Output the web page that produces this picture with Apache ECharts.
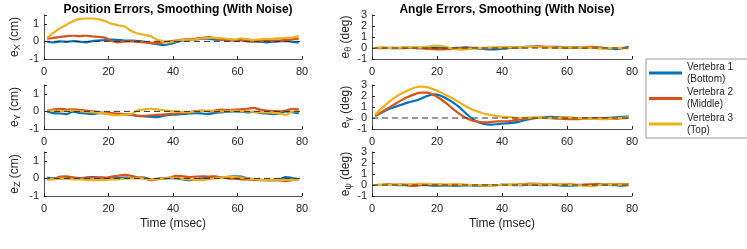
<!DOCTYPE html>
<html><head><meta charset="utf-8">
<script src="https://cdn.jsdelivr.net/npm/echarts@6/dist/echarts.min.js"></script>
<style>html,body{margin:0;padding:0;background:#fff}#c{width:747px;height:249px}</style>
</head><body><div id="c"></div>
<script>
// time samples (msec)
var time = [1,3,5,7,9,11,13,15,17,19,21,23,25,27,29,31,33,35,37,39,41,43,45,47,49,51,53,55,57,59,61,63,65,67,69,71,73,75,77,79];
var seriesNames = ['Vertebra 1 (Bottom)','Vertebra 2 (Middle)','Vertebra 3 (Top)'];
var xTicks = [0,20,40,60,80];
var posTicks = [-1,0,1];
var angTicks = [-1,0,1,2,3];

// e_X (cm)
var ex_v1 = [-0.02,-0.05,0,-0.03,0.02,-0.02,-0.05,0.02,0.05,0.08,0.1,0.08,0.05,0.05,0.02,-0.02,-0.1,-0.15,-0.2,-0.15,-0.05,0.05,0.1,0.12,0.15,0.15,0.1,0.1,0.08,0.05,0.08,0.02,0,-0.02,-0.05,-0.02,0,0.02,-0.03,-0.05];
var ex_v2 = [0.15,0.2,0.25,0.3,0.32,0.3,0.32,0.28,0.25,0.2,0.02,-0.05,0,0,-0.03,-0.05,-0.08,-0.1,-0.05,0,0.05,0.1,0.12,0.15,0.2,0.25,0.18,0.1,0.08,0.05,0.05,0.02,0,0.03,0.05,0.05,0.05,0.08,0.12,0.15];
var ex_v3 = [0.2,0.5,0.75,0.95,1.15,1.28,1.3,1.3,1.25,1.15,1.0,0.92,0.85,0.6,0.45,0.38,0.3,0.1,0,-0.05,0.02,0.08,0.1,0.12,0.18,0.2,0.2,0.18,0.15,0.1,0.18,0.12,0.08,0.12,0.15,0.15,0.18,0.2,0.22,0.3];
// e_Y (cm)
var ey_v1 = [0,-0.1,-0.12,-0.15,-0.02,-0.08,-0.12,-0.15,-0.1,-0.12,-0.18,-0.2,-0.15,-0.18,-0.25,-0.28,-0.3,-0.32,-0.25,-0.2,-0.18,-0.15,-0.12,-0.1,-0.12,-0.15,-0.08,-0.05,-0.02,0,-0.02,-0.05,-0.03,-0.08,-0.12,-0.15,-0.12,0,-0.05,-0.1];
var ey_v2 = [0.05,0.12,0.15,0.1,0.12,0.08,0.05,0,-0.05,-0.08,-0.1,-0.12,-0.15,-0.2,-0.25,-0.25,-0.22,-0.2,-0.18,-0.15,-0.12,-0.08,-0.05,0.02,0.05,0,0.05,0.1,0.08,0.1,0.12,0.15,0.2,0.1,0.05,0.02,0,0.05,0.15,0.12];
var ey_v3 = [0.05,0.05,0,0.02,0.05,0.02,-0.02,-0.05,-0.08,-0.12,-0.2,-0.22,-0.18,-0.15,0.05,0.12,0.15,0.12,0.08,0.02,0,-0.03,-0.05,0,0.03,0.05,0.02,0,0.02,0.05,0.02,0,-0.02,-0.05,-0.05,-0.08,-0.12,-0.2,0,0.02];
// e_Z (cm)
var ez_v1 = [0.05,0,0,0.02,0.05,0.02,0.05,0.08,0.05,0.02,0,0.02,0.05,0.03,0.05,0.05,-0.05,-0.03,0,0.02,0,-0.05,-0.1,-0.05,0,0.02,0.05,0.05,0.08,0.12,0.1,0.02,-0.05,-0.1,-0.1,-0.08,-0.05,0.08,0.02,-0.05];
var ez_v2 = [-0.05,-0.02,0.1,0.12,0.05,0,0.02,0.05,0.05,0.05,0.1,0.15,0.2,0.15,0.05,0.02,-0.1,-0.05,0,0.05,0.15,0.12,0.08,0.1,0.12,0.1,0.12,0.05,0,-0.02,-0.05,-0.05,-0.1,-0.08,-0.1,-0.12,-0.12,-0.15,-0.1,-0.05];
var ez_v3 = [-0.05,-0.05,0,-0.02,-0.05,-0.05,-0.08,-0.1,-0.1,-0.08,-0.05,-0.05,-0.02,0,0,-0.02,-0.05,-0.05,0,0.05,0.02,-0.02,-0.05,-0.08,-0.1,-0.05,0,0.05,0.1,0.08,0.05,0,-0.05,-0.08,-0.1,-0.1,-0.1,-0.08,-0.08,-0.05];
// e_theta (deg)
var et_v1 = [0,0.02,0,-0.02,0,0.02,0,-0.02,0,0.02,0,-0.02,0,0.02,0.05,0,-0.05,-0.1,-0.12,-0.1,-0.05,0,0.05,0.1,0.12,0.12,0.08,0.1,0.1,0.08,0.05,0.05,0.02,0.05,0.02,0,-0.05,-0.1,-0.02,0.1];
var et_v2 = [0,-0.02,0,0.02,-0.02,0,0,-0.02,-0.05,-0.1,-0.12,-0.1,-0.05,-0.02,0,0.02,0,-0.02,0,0.02,0.05,0.05,0.05,0.08,0.1,0.15,0.12,0.08,0.05,0.05,0.02,0.02,0.05,0.1,0.08,0.02,0,0,-0.02,0];
var et_v3 = [0.02,0.05,0.02,0,0.05,0.08,0.05,0.05,0.12,0.22,0.2,0.08,-0.05,-0.15,-0.12,-0.05,0,0.02,0.05,0.05,0.08,0.05,0.05,0.08,0.1,0.08,0.05,0.05,0.02,0.05,0.05,0.02,0.05,0.02,-0.02,-0.05,-0.02,0,0.02,0];
// e_gamma (deg)
var eg_v1 = [0.2,0.5,0.8,1.0,1.2,1.4,1.55,1.75,2.0,2.15,2.05,1.75,1.4,0.95,0.4,-0.1,-0.4,-0.55,-0.6,-0.55,-0.5,-0.45,-0.35,-0.2,-0.05,0.02,0.05,0.1,0.08,0.05,0.02,0,0,-0.02,0,0,0.02,0.05,0.1,0.12];
var eg_v2 = [0.2,0.55,0.9,1.25,1.6,1.9,2.15,2.3,2.3,2.1,1.75,1.3,0.8,0.35,0,-0.25,-0.35,-0.4,-0.35,-0.3,-0.3,-0.25,-0.15,-0.08,-0.02,0,0,-0.02,-0.05,-0.08,-0.1,-0.1,-0.08,-0.05,0,0,-0.03,-0.05,-0.02,0];
var eg_v3 = [0.3,0.9,1.4,1.85,2.2,2.5,2.75,2.85,2.8,2.6,2.35,2.05,1.75,1.4,1.05,0.75,0.55,0.35,0.25,0.15,0.1,0.05,0,0.02,0.05,0.05,0.02,0,0.02,0.05,0.05,0,-0.05,-0.05,-0.08,-0.1,-0.08,0,0.02,0.05];
// e_psi (deg)
var ep_v1 = [0,0,0.02,0,-0.02,0,0.02,0,-0.02,-0.05,-0.05,-0.03,-0.05,-0.05,-0.03,-0.05,-0.08,-0.05,-0.02,0,0.02,0,-0.02,0,0.02,0,-0.02,0,-0.02,-0.05,-0.05,-0.03,0,0.02,0,0.02,0,-0.02,-0.05,-0.02];
var ep_v2 = [0,0.02,0.05,0.02,0.05,-0.05,-0.08,-0.02,0.05,0.02,0,-0.02,0,0.02,0,0,-0.02,-0.05,-0.02,0,0.02,0.03,0.05,0.08,0.12,0.1,0.05,0.05,0.03,0.05,0.05,0.02,0.03,0.05,0.08,0.08,0.05,0.05,0.1,0.05];
var ep_v3 = [0,0.02,0,0.03,0.05,0.05,0.08,0.1,0.1,0.08,0.08,0.05,0.08,0.05,0.02,0,-0.03,-0.05,-0.03,0,0,0.02,0.02,0.03,0.05,0.05,0.03,0.03,0.05,0.05,0.02,0,-0.05,-0.1,-0.05,0.05,0.03,0.02,0.05,0.02];

var colors = ['#0072BD','#D95319','#EDB120'];
var panels = [
  {vals:[ex_v1,ex_v2,ex_v3], sub:'X', unit:'(cm)', col:0, row:0},
  {vals:[ey_v1,ey_v2,ey_v3], sub:'Y', unit:'(cm)', col:0, row:1},
  {vals:[ez_v1,ez_v2,ez_v3], sub:'Z', unit:'(cm)', col:0, row:2},
  {vals:[et_v1,et_v2,et_v3], sub:'θ', unit:'(deg)', col:1, row:0},
  {vals:[eg_v1,eg_v2,eg_v3], sub:'γ', unit:'(deg)', col:1, row:1},
  {vals:[ep_v1,ep_v2,ep_v3], sub:'ψ', unit:'(deg)', col:1, row:2}
];
var gridTops = [15, 85, 152];
var gridLefts = [44, 372];
var gridWidths = [258, 260];
var FONT = 'Liberation Sans, Arial, Helvetica, sans-serif';
var TXT = '#262626';

var grids=[], xAxes=[], yAxes=[], series=[];
panels.forEach(function(p, i){
  grids.push({left:gridLefts[p.col], top:gridTops[p.row], width:gridWidths[p.col], height:44});
  var isLast = p.row === 2;
  xAxes.push({
    type:'value', gridIndex:i, min:0, max:80, interval:20,
    axisLine:{show:true, onZero:false, lineStyle:{color:TXT, width:0.8}},
    axisTick:{show:true, inside:true, length:3, lineStyle:{color:TXT}},
    axisLabel:{color:TXT, fontSize:11, fontFamily:FONT, margin:7},
    splitLine:{show:false},
    name: isLast ? 'Time (msec)' : '', nameLocation:'middle', nameGap:22,
    nameTextStyle:{color:TXT, fontSize:12, fontFamily:FONT}
  });
  var isPos = p.col === 0;
  yAxes.push({
    type:'value', gridIndex:i, min:-1, max: isPos ? 1.5 : 3, interval:1,
    axisLine:{show:true, lineStyle:{color:TXT, width:0.8}},
    axisTick:{show:true, inside:true, length:3, lineStyle:{color:TXT}},
    axisLabel:{color:TXT, fontSize:11, fontFamily:FONT, margin:5,
      formatter:function(v){ return (Math.abs(v - Math.round(v))<1e-9) ? String(v) : ''; }},
    splitLine:{show:false},
    name:'e{s|' + p.sub + '} ' + p.unit, nameLocation:'middle', nameRotate:90, nameGap: isPos ? 22 : 18,
    nameTextStyle:{color:TXT, fontSize:12, fontFamily:FONT,
      rich:{s:{fontSize:9, fontFamily:FONT, color:TXT, verticalAlign:'bottom', padding:[6,0,0,0]}}}
  });
  p.vals.forEach(function(arr, k){
    series.push({
      type:'line', name:seriesNames[k], xAxisIndex:i, yAxisIndex:i,
      data: time.map(function(t, j){ return [t, arr[j]]; }),
      showSymbol:false, smooth:0.3, color:colors[k],
      lineStyle:{width:2.2, color:colors[k]}, z:2+k, animation:false
    });
  });
  series.push({
    type:'line', xAxisIndex:i, yAxisIndex:i, data:[[0,0],[80,0]], showSymbol:false,
    lineStyle:{type:[6,4], width:1, color:'#333'}, z:10, silent:true, animation:false
  });
});

var chart = echarts.init(document.getElementById('c'), null, {renderer:'canvas'});
chart.setOption({
  animation:false,
  textStyle:{fontFamily:FONT},
  title:[
    {text:'Position Errors, Smoothing (With Noise)', left:173, top:-1, textAlign:'center',
      textStyle:{fontSize:12, fontWeight:'bold', color:'#000', fontFamily:FONT}},
    {text:'Angle Errors, Smoothing (With Noise)', left:502, top:-1, textAlign:'center',
      textStyle:{fontSize:12, fontWeight:'bold', color:'#000', fontFamily:FONT}}
  ],
  legend:{
    data:seriesNames, orient:'vertical', left:646, top:59, width:100,
    borderColor:'#999', borderWidth:1, backgroundColor:'#fff', padding:[2,16,2,3],
    itemWidth:33, itemHeight:3, itemGap:1.5, icon:'rect',
    textStyle:{fontSize:10, color:TXT, fontFamily:FONT, lineHeight:12},
    formatter:function(n){ return n.replace(' (', '\n('); }
  },
  grid:grids, xAxis:xAxes, yAxis:yAxes, series:series
});
</script></body></html>
